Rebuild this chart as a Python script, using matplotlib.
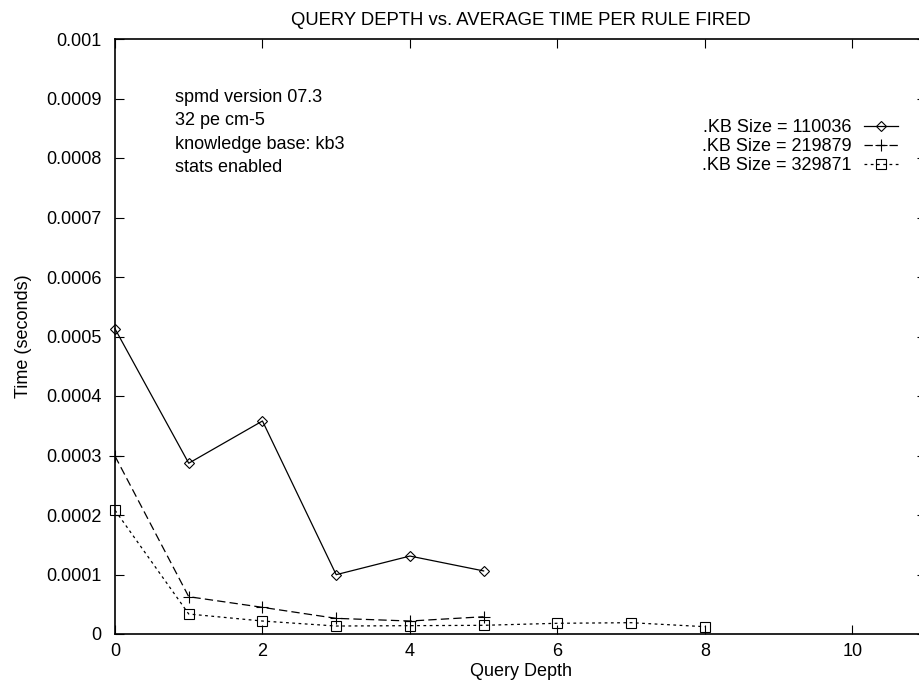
import matplotlib
matplotlib.use("Agg")
import matplotlib.pyplot as plt
from matplotlib.ticker import FixedLocator, FixedFormatter

plt.rcParams['font.family'] = ['Liberation Sans', 'DejaVu Sans']
plt.rcParams['lines.scale_dashes'] = False

# data
depth_110036 = [0, 1, 2, 3, 4, 5]
time_110036 = [0.000513, 0.000287, 0.000358, 0.0000997, 0.000131, 0.000106]

depth_219879 = [0, 1, 2, 3, 4, 5]
time_219879 = [0.000299, 0.0000627, 0.0000448, 0.0000263, 0.0000218, 0.000029]

depth_329871 = [0, 1, 2, 3, 4, 5, 6, 7, 8]
time_329871 = [0.000208, 0.0000336, 0.0000218, 0.0000134, 0.000014, 0.0000146,
               0.000018, 0.000019, 0.0000123]

series_labels = [".KB Size = 110036", ".KB Size = 219879", ".KB Size = 329871"]
x_ticks = [0, 2, 4, 6, 8, 10]
y_ticks = [0, 0.0001, 0.0002, 0.0003, 0.0004, 0.0005, 0.0006, 0.0007, 0.0008, 0.0009, 0.001]
y_tick_labels = ["0", "0.0001", "0.0002", "0.0003", "0.0004", "0.0005",
                 "0.0006", "0.0007", "0.0008", "0.0009", "0.001"]
note_lines = ["spmd version 07.3", "32 pe cm-5", "knowledge base: kb3", "stats enabled"]

W, H = 919, 683
FS = 13
fig = plt.figure(figsize=(W / 100, H / 100), dpi=100)
# right edge of the frame falls just outside the picture, as in the reference
ax = fig.add_axes([115 / W, 49 / H, 811 / W, 595 / H])

lw = 0.9
ax.plot(depth_110036, time_110036, color='black', lw=lw, marker='D', ms=5.5,
        mfc='none', mec='black', mew=0.8, clip_on=False, label=series_labels[0])
ax.plot(depth_219879, time_219879, color='black', lw=lw, dashes=(6, 3), marker='+',
        ms=9, mew=0.8, clip_on=False, label=series_labels[1])
ax.plot(depth_329871, time_329871, color='black', lw=lw, dashes=(2, 2.5), marker='s',
        ms=7.5, mfc='none', mec='black', mew=0.8, clip_on=False, label=series_labels[2])

ax.set_xlim(0, 11)
ax.set_ylim(0, 0.001)
ax.xaxis.set_major_locator(FixedLocator(x_ticks))
ax.yaxis.set_major_locator(FixedLocator(y_ticks))
ax.yaxis.set_major_formatter(FixedFormatter(y_tick_labels))
ax.tick_params(direction='in', length=6.5, width=0.8, top=True, right=True,
               labelsize=FS, colors='black')
ax.tick_params(axis='y', pad=9.5)
ax.tick_params(axis='x', pad=6.5)
for s in ax.spines.values():
    s.set_linewidth(1.2)

ax.set_xlabel("Query Depth", fontsize=FS, labelpad=2)
ax.set_ylabel("Time (seconds)", fontsize=FS, labelpad=10)
ax.set_title("QUERY DEPTH vs. AVERAGE TIME PER RULE FIRED", fontsize=13.3, pad=10)

for i, line in enumerate(note_lines):
    ax.text((175 - 115) / 811, (634 - 97) / 595 - i * 23.6 / 595, line,
            fontsize=FS, va='center', ha='left', transform=ax.transAxes)

leg = ax.legend(loc='upper right', bbox_to_anchor=((898 - 115) / 811, (634 - 119) / 595),
                frameon=False, markerfirst=False, numpoints=1, fontsize=FS,
                handlelength=1.9, handletextpad=0.65, labelspacing=0.12, borderpad=0,
                borderaxespad=0)

fig.savefig("out.png", dpi=100)
